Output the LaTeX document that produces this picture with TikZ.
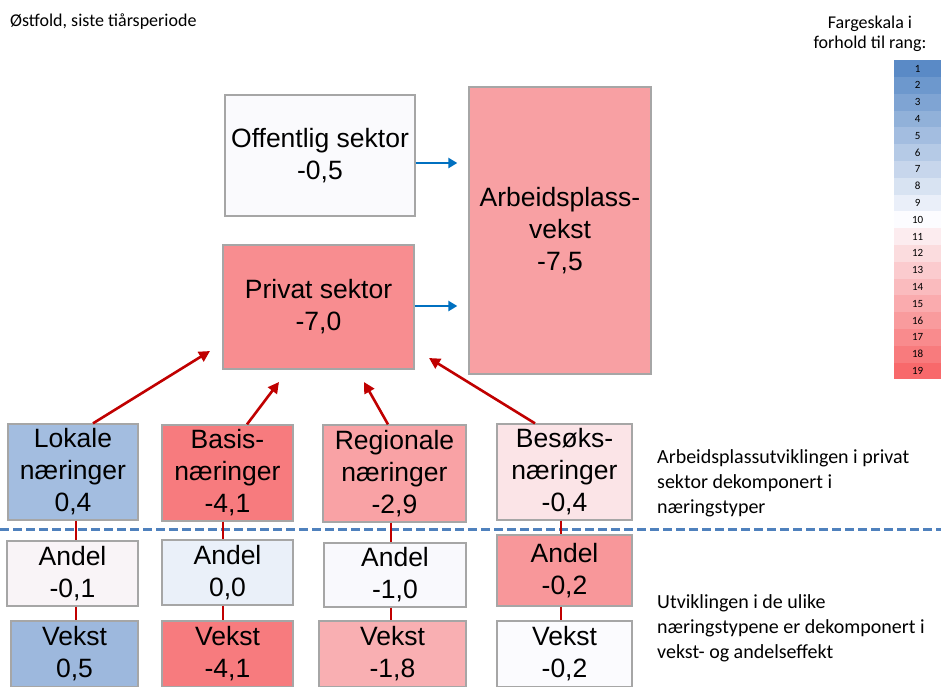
\documentclass[tikz,border=0pt]{standalone}
\usepackage{fontspec}
\setmainfont{Liberation Sans}
\newfontfamily\calibri{Carlito}
\usetikzlibrary{arrows.meta,calc,positioning}

\definecolor{scaleblue}{RGB}{90,138,198}
\definecolor{scalewhite}{RGB}{252,252,255}
\definecolor{scalered}{RGB}{248,105,107}
\definecolor{boxgray}{RGB}{166,166,166}
\definecolor{linkred}{RGB}{192,0,0}
\definecolor{arrowblue}{RGB}{0,112,192}
\definecolor{dashblue}{RGB}{79,129,189}

\definecolor{offcol}{HTML}{FAFAFD}
\definecolor{privcol}{HTML}{F88D90}
\definecolor{arbcol}{HTML}{F8A0A3}
\definecolor{lokcol}{HTML}{A3BDE0}
\definecolor{bascol}{HTML}{F77B7E}
\definecolor{regcol}{HTML}{F9A2A5}
\definecolor{bescol}{HTML}{FBE4E7}
\definecolor{alokcol}{HTML}{F9F4F7}
\definecolor{abascol}{HTML}{EAF0F9}
\definecolor{aregcol}{HTML}{F9F9FD}
\definecolor{abescol}{HTML}{F8979A}
\definecolor{vlokcol}{HTML}{9DB8DD}
\definecolor{vbascol}{HTML}{F77B7E}
\definecolor{vregcol}{HTML}{F9AFB2}
\definecolor{vbescol}{HTML}{FBFBFE}

\begin{document}
\begin{tikzpicture}[x=1pt,y=-1pt,
  box/.style={draw=boxgray,line width=1.3pt,rectangle,align=center,inner sep=0pt,
    font=\fontsize{26.5}{32}\selectfont},
  note/.style={font=\calibri\fontsize{20}{25}\selectfont,align=left,inner sep=0pt},
  link/.style={draw=linkred,line width=2.6pt},
  uparrow/.style={link,-{Triangle[length=11pt,width=11pt]}},
  sidearrow/.style={draw=arrowblue,line width=2.6pt,-{Triangle[length=9pt,width=10pt]},shorten >=11pt},
  cell/.style={rectangle,minimum width=47,minimum height=16.8,inner sep=0pt,
    font=\calibri\fontsize{11}{13}\selectfont}]

        \useasboundingbox (0,0) rectangle (941,686);

        % overskrifter
        \node[anchor=base west,inner sep=0pt,font=\calibri\fontsize{18}{22}\selectfont] (title) at (10,26) {Østfold, siste tiårsperiode};
        \node[align=center,anchor=base,inner sep=0pt,font=\calibri\fontsize{18}{20}\selectfont] (cap) at (870,48) {Fargeskala i\\forhold til rang:};

        % fargeskala
        \foreach \r in {1,...,19}{
          \ifnum\r<10
            \pgfmathtruncatemacro{\p}{(10-\r)*100/9}
            \colorlet{rank}{scaleblue!\p!scalewhite}
          \else
            \pgfmathtruncatemacro{\p}{(\r-10)*100/9}
            \colorlet{rank}{scalered!\p!scalewhite}
          \fi
          \node[cell,fill=rank,anchor=north west] (s\r) at (894,{60+(\r-1)*16.8}) {\r};
        }

        % sektorer
        \node[box,fill=offcol,minimum width=190,minimum height=121] (off) at (320,155.5) {Offentlig sektor\\-0,5};
        \node[box,fill=privcol,minimum width=191,minimum height=124] (priv) at (318.5,307) {Privat sektor\\-7,0};
        \node[box,fill=arbcol,minimum width=182,minimum height=287] (arb) at (560,230.5) {Arbeidsplass-\\vekst\\-7,5};

        \draw[sidearrow] ([yshift=-7.5]off.east) -- ([yshift=-7.5]off.east -| arb.west);
        \draw[sidearrow] ([yshift=1]priv.east) -- ([yshift=1]priv.east -| arb.west);

        % naeringstyper
        \node[box,fill=lokcol,minimum width=130,minimum height=96] (lok) at (73,472) {Lokale\\næringer\\0,4};
        \node[box,fill=bascol,minimum width=131,minimum height=96] (bas) at (227.5,473) {Basis-\\næringer\\-4,1};
        \node[box,fill=regcol,minimum width=143,minimum height=97] (reg) at (394.5,473.5) {Regionale\\næringer\\-2,9};
        \node[box,fill=bescol,minimum width=135,minimum height=96] (bes) at (564.5,472) {Besøks-\\næringer\\-0,4};

        \coordinate (t1) at (210,351);
        \coordinate (t2) at (279,382);
        \coordinate (t3) at (364,382);
        \coordinate (t4) at (429,358);
        \draw[uparrow] ([xshift=20]lok.north) -- (t1);
        \draw[uparrow] ([xshift=19.5]bas.north) -- (t2);
        \draw[uparrow] ([xshift=-6.5]reg.north) -- (t3);
        \draw[uparrow] ([xshift=-29.5]bes.north) -- (t4);

        \draw[dashblue,line width=3pt,dash pattern=on 9pt off 4pt] (0,529) -- (941,529);

        % andel og vekst
        \node[box,fill=alokcol,minimum width=131,minimum height=65] (alok) at (72.5,573.5) {Andel\\-0,1};
        \node[box,fill=abascol,minimum width=131,minimum height=65] (abas) at (227.5,572.5) {Andel\\0,0};
        \node[box,fill=aregcol,minimum width=142,minimum height=64] (areg) at (395,575) {Andel\\-1,0};
        \node[box,fill=abescol,minimum width=135,minimum height=71] (abes) at (564.5,570.5) {Andel\\-0,2};

        \node[box,fill=vlokcol,minimum width=127,minimum height=66] (vlok) at (74.5,654) {Vekst\\0,5};
        \node[box,fill=vbascol,minimum width=131,minimum height=66] (vbas) at (227.5,654) {Vekst\\-4,1};
        \node[box,fill=vregcol,minimum width=147,minimum height=66] (vreg) at (392.5,654) {Vekst\\-1,8};
        \node[box,fill=vbescol,minimum width=135,minimum height=66] (vbes) at (564.5,654) {Vekst\\-0,2};

        \foreach \a/\b/\c/\x in {lok/alok/vlok/76,bas/abas/vbas/223,reg/areg/vreg/391,bes/abes/vbes/561}{
          \coordinate (c) at (\x,0);
          \draw[link] (\a.south -| c) -- (\b.north -| c) (\b.south -| c) -- (\c.north -| c);
        }

        % forklaringer
        \node[note,anchor=base west] (n1) at (657,513) {Arbeidsplassutviklingen i privat\\sektor dekomponert i\\næringstyper};
        \node[note,anchor=base west] (n2) at (657,658) {Utviklingen i de ulike\\næringstypene er dekomponert i\\vekst- og andelseffekt};
      \end{tikzpicture}
\end{document}
